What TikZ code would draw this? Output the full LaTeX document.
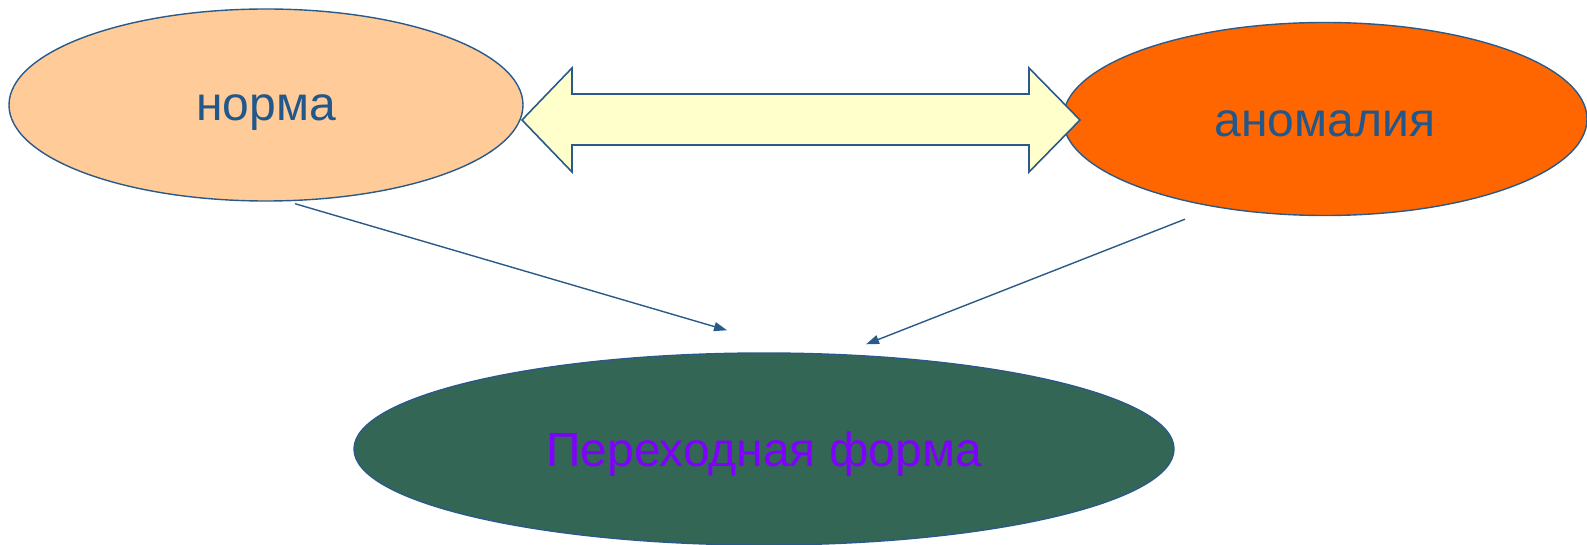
\documentclass[tikz,border=0pt]{standalone}
\usepackage{fontspec}
\setmainfont{Liberation Sans}
\usetikzlibrary{shapes.geometric,arrows.meta}
\definecolor{edgeblue}{RGB}{42,90,138}
\definecolor{textblue}{RGB}{33,87,138}
\definecolor{peach}{RGB}{255,204,153}
\definecolor{hotorange}{RGB}{255,102,0}
\definecolor{deepgreen}{RGB}{51,102,85}
\definecolor{paleyellow}{RGB}{255,255,204}
\definecolor{violet}{RGB}{128,0,255}
\tikzset{
  oval/.style={ellipse, draw=edgeblue, line width=1.4pt, inner sep=0pt,
    text depth=0pt, font=\fontsize{48}{58}\selectfont},
  conn/.style={draw=edgeblue, line width=1.4pt,
    -{Triangle[length=13pt,width=9pt]}},
  bigarrow/.style={draw=edgeblue, fill=paleyellow, line width=1.6pt, line join=miter}
}
\begin{document}
\begin{tikzpicture}[x=1pt,y=1pt]
\useasboundingbox (0,0) rectangle (1587,544);
% upper ovals
\node[oval, fill=peach, text=textblue, text height=32pt,
  minimum width=514pt, minimum height=192pt]
  (norm) at (266,439) {норма};
\node[oval, fill=hotorange, text=textblue, text height=36pt,
  minimum width=524pt, minimum height=193pt]
  (anom) at (1325,425) {аномалия};
% two-headed block arrow between them
\draw[bigarrow] (522,424) -- (572,476) -- (572,450) -- (1029,450) -- (1029,476)
  -- (1080,424) -- (1029,372) -- (1029,399) -- (572,399) -- (572,372) -- cycle;
% lower oval
\node[oval, fill=deepgreen, text=violet, text height=35pt,
  minimum width=820pt, minimum height=192pt]
  (trans) at (764,95) {Переходная форма};
% connectors
\draw[conn] ([xshift=29pt,yshift=-2pt]norm.south) -- ([xshift=-37pt,yshift=22pt]trans.north);
\draw[conn] ([xshift=-140pt,yshift=-3pt]anom.south) -- ([xshift=102pt,yshift=8pt]trans.north);
\end{tikzpicture}
\end{document}
